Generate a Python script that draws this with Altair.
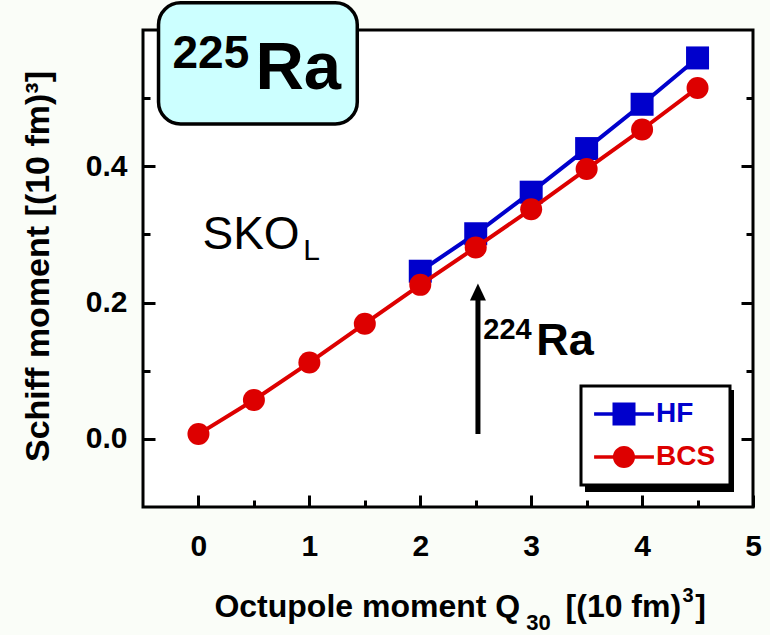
import altair as alt
import pandas as pd

# Schiff moment of 225Ra versus the octupole moment (SKO_L functional)
q30_hf = [2.0, 2.5, 3.0, 3.5, 4.0, 4.5]
schiff_hf = [0.246, 0.301, 0.362, 0.426, 0.491, 0.559]
q30_bcs = [0.0, 0.5, 1.0, 1.5, 2.0, 2.5, 3.0, 3.5, 4.0, 4.5]
schiff_bcs = [0.007, 0.057, 0.112, 0.169, 0.226, 0.281, 0.337, 0.396, 0.454, 0.515]
series_names = ["HF", "BCS"]
series_colors = ["#0000cc", "#dd0000"]

x_major = [0, 1, 2, 3, 4, 5]
x_minor = [0.5, 1.5, 2.5, 3.5, 4.5]
y_major = [0.0, 0.2, 0.4]
y_minor = [0.1, 0.3, 0.5]

FONT = "Liberation Sans"
BLUE, RED = series_colors

df = pd.DataFrame({
    "q30": q30_hf + q30_bcs,
    "schiff": schiff_hf + schiff_bcs,
    "series": ["HF"] * len(q30_hf) + ["BCS"] * len(q30_bcs),
})

xs = alt.Scale(domain=[-0.5, 5], nice=False, zero=False)
ys = alt.Scale(domain=[-0.1, 0.6], nice=False, zero=False)


def tick_axis(orient, values, size, labels=False, **kw):
    # inward ticks: shift the axis into the frame by its tick length
    return alt.Axis(
        orient=orient, values=values, tickSize=size, offset=-size,
        tickWidth=3, tickColor="black", domain=False, grid=False,
        labels=labels, labelFont=FONT, labelFontSize=30, labelFontWeight="bold",
        labelColor="black", labelOverlap=False, labelFlush=False, **kw,
    )


x_main = tick_axis("bottom", x_major, 12, labels=True, labelPadding=24, title=None)
x_small = tick_axis("bottom", x_minor, 7, title=None)
y_main = tick_axis(
    "left", y_major, 12, labels=True, labelPadding=16, format=".1f",
    title="Schiff moment [(10 fm)³]", titleFont=FONT, titleFontSize=34,
    titleFontWeight="bold", titleColor="black", titlePadding=30, titleY=236,
)
y_small = tick_axis("left", y_minor, 7, title=None)
y_right = tick_axis("right", y_major, 12, title=None)
y_right_small = tick_axis("right", y_minor, 7, title=None)


def xy(xf, yf, xaxis=None, yaxis=None):
    return dict(
        x=alt.X(xf, type="quantitative", scale=xs, axis=xaxis),
        y=alt.Y(yf, type="quantitative", scale=ys, axis=yaxis),
    )


base = alt.Chart(df)
hf = base.transform_filter(alt.datum.series == "HF")
bcs = base.transform_filter(alt.datum.series == "BCS")

hf_line = hf.mark_line(color=BLUE, strokeWidth=4).encode(**xy("q30", "schiff", x_main, y_main))
hf_pts = hf.mark_square(color=BLUE, size=529, opacity=1).encode(**xy("q30", "schiff", x_small, y_small))
bcs_line = bcs.mark_line(color=RED, strokeWidth=4).encode(**xy("q30", "schiff", None, y_right))
bcs_pts = bcs.mark_circle(color=RED, size=484, opacity=1).encode(**xy("q30", "schiff", None, y_right_small))

# legend symbols: a line segment through a square / a circle
legend_paths = [
    "M-2.6,-0.16H2.6V0.16H-2.6ZM-1,-1H1V1H-1Z",
    "M-2.6,-0.16H2.6V0.16H-2.6ZM-0.96,0A0.96,0.96,0,1,1,0.96,0A0.96,0.96,0,1,1,-0.96,0Z",
]
legend_cfg = dict(
    title=None, orient="none", legendX=438, legendY=356,
    fillColor="white", strokeColor="black", padding=14,
    symbolSize=529, symbolStrokeWidth=0, symbolOffset=15, symbolOpacity=1,
    labelOffset=18, labelFont=FONT, labelFontSize=28, labelFontWeight="bold",
    labelColor={"expr": "datum.value === 'HF' ? '%s' : '%s'" % (BLUE, RED)},
    rowPadding=15,
)
legend_layer = base.transform_filter("false").mark_point(filled=True).encode(
    **xy("q30", "schiff"),
    color=alt.Color("series:N", scale=alt.Scale(domain=series_names, range=series_colors),
                    legend=alt.Legend(**legend_cfg)),
    shape=alt.Shape("series:N", scale=alt.Scale(domain=series_names, range=legend_paths),
                    legend=alt.Legend(**legend_cfg)),
)
# drop shadow behind the legend frame
legend_shadow = alt.Chart(pd.DataFrame({"a": [0]})).mark_rect(color="black").encode(
    x=alt.value(442), x2=alt.value(591), y=alt.value(360), y2=alt.value(462)
)

# nucleus label box
box = alt.Chart(pd.DataFrame({"x0": [-0.36], "x1": [1.432], "y0": [0.462], "y1": [0.64]})).mark_rect(
    fill="#ccffff", stroke="black", strokeWidth=3.5, cornerRadius=22
).encode(
    x=alt.X("x0:Q", scale=xs, axis=None), x2="x1:Q",
    y=alt.Y("y0:Q", scale=ys, axis=None), y2="y1:Q",
)


def label(text, x, y, size, weight="bold", color="black"):
    return alt.Chart(pd.DataFrame({"x": [x], "y": [y], "t": [text]})).mark_text(
        align="left", baseline="alphabetic", font=FONT, fontSize=size,
        fontWeight=weight, color=color,
    ).encode(**xy("x", "y"), text="t:N")


texts = [
    label("225", -0.234, 0.544, 46),
    label("Ra", 0.514, 0.513, 67),
    label("SKO", 0.036, 0.278, 46, "normal"),
    label("L", 0.946, 0.263, 30, "normal"),
    label("224", 2.568, 0.147, 29),
    label("Ra", 3.045, 0.1235, 45),
    # x-axis title with subscript and superscript
    label("Octupole moment Q", 0.144, -0.262, 32),
    label("30", 2.955, -0.281, 22),
    label("[(10 fm)", 3.31, -0.262, 32),
    label("3", 4.365, -0.240, 20),
    label("]", 4.48, -0.262, 32),
]

# arrow pointing at 224Ra
arrow_df = pd.DataFrame({"x": [2.52], "y0": [0.007], "y1": [0.205], "tip": [0.2154]})
arrow_shaft = alt.Chart(arrow_df).mark_rule(color="black", strokeWidth=5).encode(
    x=alt.X("x:Q", scale=xs, axis=None), y=alt.Y("y0:Q", scale=ys, axis=None), y2="y1:Q"
)
arrow_head = alt.Chart(arrow_df).mark_point(
    shape="M0,-1L0.94,1L-0.94,1Z", size=289, filled=True, color="black", opacity=1
).encode(**xy("x", "tip"))

chart = alt.layer(
    hf_line, hf_pts, bcs_line, bcs_pts,
    arrow_shaft, arrow_head,
    legend_shadow, legend_layer,
    box, *texts,
).resolve_axis(x="independent", y="independent").properties(
    width=610, height=477,
    padding={"left": 143, "top": 30, "right": 17, "bottom": 128},
    autosize=alt.AutoSizeParams(type="none"),
    background="#fafdf8",
).configure_view(stroke="black", strokeWidth=3, fill="white").configure_legend(strokeWidth=3)

chart.save("out.html", embed_options={"renderer": "svg", "actions": False})
